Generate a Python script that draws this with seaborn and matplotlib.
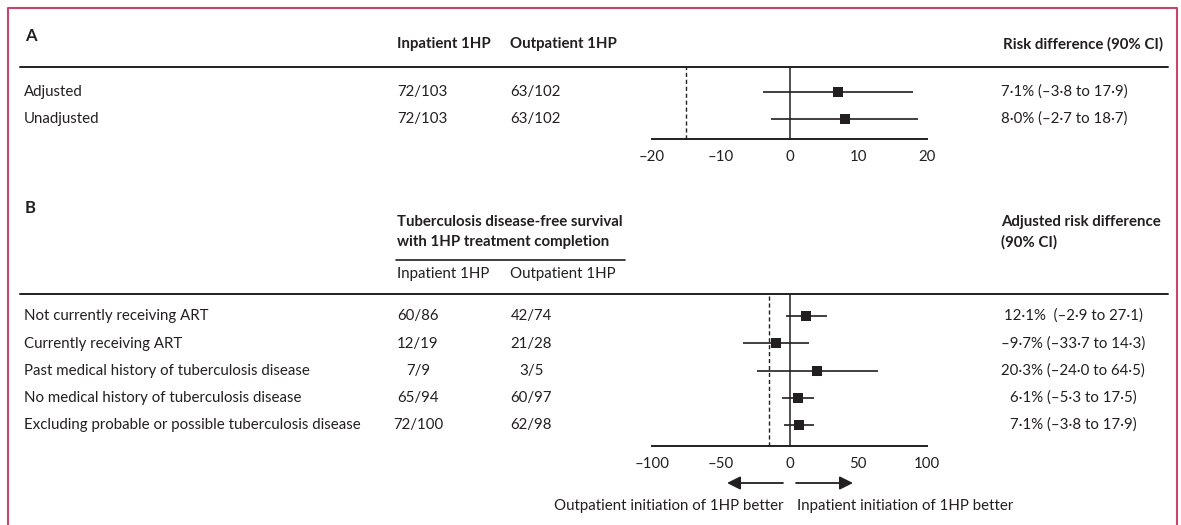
"""Forest plot: inpatient vs outpatient 1HP initiation (risk differences)."""
import matplotlib.pyplot as plt
import numpy as np
import pandas as pd
import seaborn as sns
from matplotlib.patches import FancyArrowPatch
from matplotlib.ticker import FuncFormatter

W, H = 1181, 525
INK = "#231f20"
BORDER = "#c8446a"

# ---- panel A data ----
a_labels = ["Adjusted", "Unadjusted"]
a_inpatient = ["72/103", "72/103"]
a_outpatient = ["63/102", "63/102"]
a_est = [7.1, 8.0]
a_lo = [-3.8, -2.7]
a_hi = [17.9, 18.7]
a_text = ["7·1% (–3·8 to 17·9)", "8·0% (–2·7 to 18·7)"]
a_ticks = [-20, -10, 0, 10, 20]

# ---- panel B data ----
b_labels = [
    "Not currently receiving ART",
    "Currently receiving ART",
    "Past medical history of tuberculosis disease",
    "No medical history of tuberculosis disease",
    "Excluding probable or possible tuberculosis disease",
]
b_inpatient = ["60/86", "12/19", "7/9", "65/94", "72/100"]
b_outpatient = ["42/74", "21/28", "3/5", "60/97", "62/98"]
b_est = [12.1, -9.7, 20.3, 6.1, 7.1]
b_lo = [-2.9, -33.7, -24.0, -5.3, -3.8]
b_hi = [27.1, 14.3, 64.5, 17.5, 17.9]
b_text = [
    "12·1%  (–2·9 to 27·1)",
    "–9·7% (–33·7 to 14·3)",
    "20·3% (–24·0 to 64·5)",
    "6·1% (–5·3 to 17·5)",
    "7·1% (–3·8 to 17·9)",
]
b_ticks = [-100, -50, 0, 50, 100]

margin_a = -15
margin_b = -15

FS = 10.8

sns.set_theme(style="white")
plt.rcParams["font.family"] = ["Lato", "DejaVu Sans"]
plt.rcParams["font.size"] = FS
plt.rcParams["text.color"] = INK
plt.rcParams["xtick.color"] = INK

fig = plt.figure(figsize=(W / 100, H / 100), dpi=100)


def px(x, y):
    return x / W, 1 - y / H


def txt(x, y, s, **kw):
    kw.setdefault("va", "center")
    fig.text(*px(x, y), s, **kw)


def hline(x0, x1, y, lw=1.4):
    fig.add_artist(plt.Line2D([x0 / W, x1 / W], [1 - y / H, 1 - y / H],
                              color=INK, lw=lw, transform=fig.transFigure))


def add_forest(top, bottom, rows_y, est, lo, hi, ticks, margin):
    x0, x1 = 652, 927
    ax = fig.add_axes([x0 / W, 1 - bottom / H, (x1 - x0) / W, (bottom - top) / H])
    n = len(est)
    spacing = (rows_y[-1] - rows_y[0]) / (n - 1)
    ax.set_ylim(n - 1 + (bottom - rows_y[-1]) / spacing, -(rows_y[0] - top) / spacing)
    ax.set_xlim(ticks[0], ticks[-1])
    df = pd.DataFrame({"row": np.arange(n), "est": est, "lo": lo, "hi": hi})
    ax.hlines(df["row"], df["lo"], df["hi"], color=INK, lw=1.2, zorder=2)
    sns.scatterplot(data=df, x="est", y="row", marker="s", s=62, color=INK,
                    edgecolor=INK, linewidth=0, ax=ax, zorder=3, legend=False)
    ax.axvline(0, color=INK, lw=1.1, zorder=1)
    ax.axvline(margin, color=INK, lw=1.0, ls=(0, (3, 2)), zorder=1)
    for side in ["top", "right", "left"]:
        ax.spines[side].set_visible(False)
    ax.spines["bottom"].set_color(INK)
    ax.spines["bottom"].set_linewidth(1.4)
    ax.set_xticks(ticks)
    ax.xaxis.set_major_formatter(FuncFormatter(lambda v, p: f"{v:g}".replace("-", "–")))
    ax.tick_params(axis="x", direction="out", length=6, width=1.2, pad=2, labelsize=FS)
    ax.set_yticks([])
    ax.set_xlabel("")
    ax.set_ylabel("")
    ax.patch.set_alpha(0)
    return ax


# border (open at the bottom)
fig.add_artist(plt.Line2D([8 / W, 8 / W, 1177 / W, 1177 / W],
                          [0, 1 - 8 / H, 1 - 8 / H, 0],
                          color=BORDER, lw=1.5, transform=fig.transFigure))

# ---- panel A ----
txt(25, 36, "A", fontsize=12, fontweight="bold")
txt(397, 44, "Inpatient 1HP", fontweight="bold")
txt(510, 44, "Outpatient 1HP", fontweight="bold")
txt(1163, 44, "Risk difference (90% CI)", fontweight="bold", ha="right")
hline(20, 1168, 67)
a_rows = [92, 119]
for y, lab, i, o, t in zip(a_rows, a_labels, a_inpatient, a_outpatient, a_text):
    txt(24, y, lab)
    txt(397, y, i)
    txt(510, y, o)
    txt(1001, y, t)
add_forest(67, 139, a_rows, a_est, a_lo, a_hi, a_ticks, margin_a)

# ---- panel B ----
txt(25, 208, "B", fontsize=12, fontweight="bold")
txt(397, 222, "Tuberculosis disease-free survival", fontweight="bold")
txt(397, 242, "with 1HP treatment completion", fontweight="bold")
hline(396, 625, 260, lw=1.2)
txt(397, 274, "Inpatient 1HP")
txt(510, 274, "Outpatient 1HP")
txt(1001, 222, "Adjusted risk difference", fontweight="bold")
txt(1001, 242, "(90% CI)", fontweight="bold")
hline(20, 1168, 294)
b_rows = [316, 344, 371, 398, 425]
for y, lab, i, o, t in zip(b_rows, b_labels, b_inpatient, b_outpatient, b_text):
    txt(24, y, lab)
    txt(418, y, i, ha="center")
    txt(531, y, o, ha="center")
    txt(1073, y, t, ha="center")
add_forest(294, 446, b_rows, b_est, b_lo, b_hi, b_ticks, margin_b)

# direction arrows
for xa, xb in [(783, 727), (796, 853)]:
    fig.add_artist(FancyArrowPatch(px(xa, 483), px(xb, 483), transform=fig.transFigure,
                                   arrowstyle="-|>,head_length=8,head_width=4",
                                   color=INK, lw=1.3, shrinkA=0, shrinkB=0))
txt(784, 506, "Outpatient initiation of 1HP better", ha="right")
txt(797, 506, "Inpatient initiation of 1HP better", ha="left")

fig.savefig("out.png", dpi=100)
